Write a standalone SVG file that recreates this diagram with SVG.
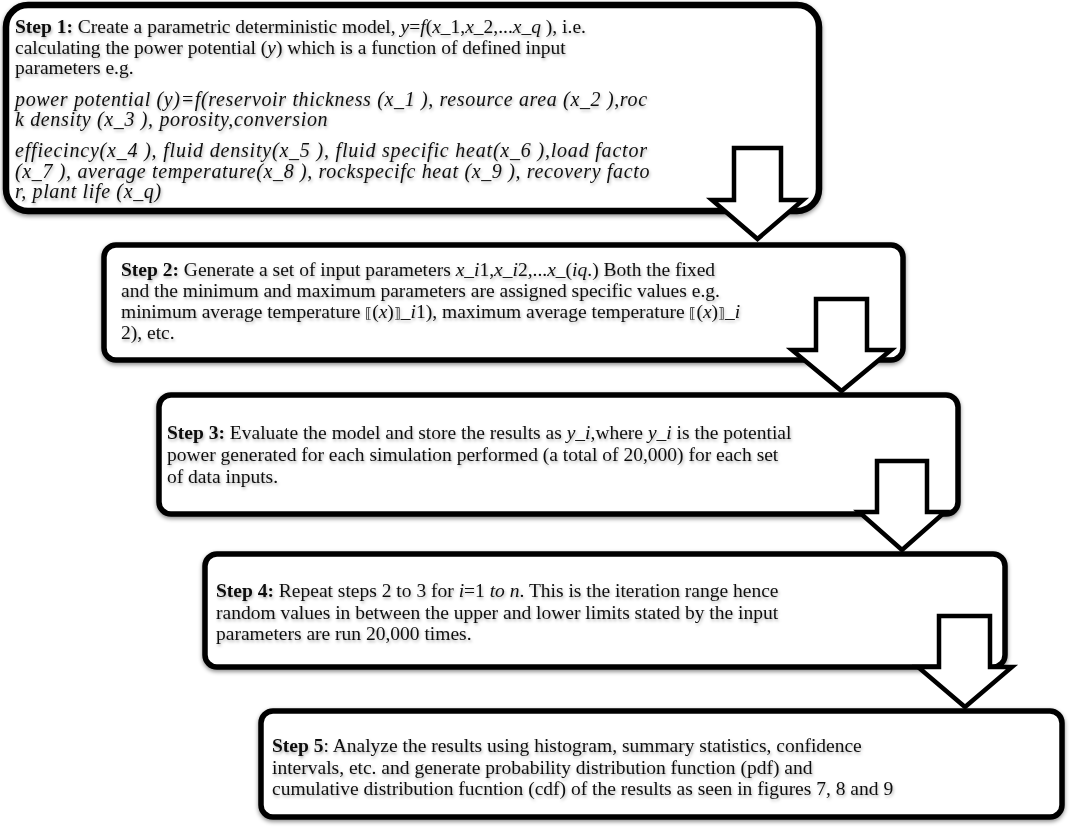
<svg xmlns="http://www.w3.org/2000/svg" width="1072" height="829" viewBox="0 0 1072 829">
<style>
.box{fill:#fff;stroke:#000;stroke-width:5.5;filter:url(#sh)}
.arr{fill:#fff;stroke:#000;stroke-width:4.5;stroke-linejoin:miter}
.t{font-family:"Liberation Serif","Times New Roman",serif;font-size:19.5px;fill:#111;filter:url(#tsh)}
.b{font-weight:bold}
.m{font-style:italic}
.mm{font-style:italic;font-size:20px;letter-spacing:0.65px}
.br{font-family:"DejaVu Serif",serif;font-size:14px}
</style>
<defs>
<filter id="sh" x="-5%" y="-10%" width="110%" height="125%">
<feDropShadow dx="0" dy="2" stdDeviation="2" flood-color="#000" flood-opacity="0.45"/>
</filter>
<filter id="tsh" x="-5%" y="-30%" width="110%" height="170%">
<feDropShadow dx="1" dy="2" stdDeviation="1.5" flood-color="#000" flood-opacity="0.3"/>
</filter>
</defs>

<g id="step1">
<rect class="box" x="6" y="5" width="813" height="206" rx="22" style="stroke-width:6.5"/>
<text class="t" x="15" y="33"><tspan class="b">Step 1:</tspan> Create a parametric deterministic model, <tspan class="m">y</tspan>=<tspan class="m">f</tspan>(<tspan class="m">x</tspan>_1,<tspan class="m">x</tspan>_2,...<tspan class="m">x</tspan>_<tspan class="m">q</tspan> ), i.e.</text>
<text class="t" x="15" y="54">calculating the power potential (<tspan class="m">y</tspan>) which is a function of defined input</text>
<text class="t" x="15" y="74">parameters e.g.</text>
<text class="t mm" x="15" y="106">power potential (y)=f(reservoir thickness (x_1 ), resource area (x_2 ),roc</text>
<text class="t mm" x="15" y="126">k density (x_3 ), porosity,conversion</text>
<text class="t mm" x="15" y="157" style="letter-spacing:0.8px">effiecincy(x_4 ), fluid density(x_5 ), fluid specific heat(x_6 ),load factor</text>
<text class="t mm" x="15" y="178">(x_7 ), average temperature(x_8 ), rockspecifc heat (x_9 ), recovery facto</text>
<text class="t mm" x="15" y="198">r, plant life (x_q)</text>
</g>

<g id="step2">
<rect class="box" x="104" y="245" width="799" height="115" rx="12"/>
<text class="t" x="121" y="276"><tspan class="b">Step 2:</tspan> Generate a set of input parameters <tspan class="m">x</tspan>_<tspan class="m">i</tspan>1,<tspan class="m">x</tspan>_<tspan class="m">i</tspan>2,...<tspan class="m">x</tspan>_(<tspan class="m">iq</tspan>.) Both the fixed</text>
<text class="t" x="121" y="297">and the minimum and maximum parameters are assigned specific values e.g.</text>
<text class="t" x="121" y="318">minimum average temperature <tspan class="br">⟦</tspan>(<tspan class="m">x</tspan>)<tspan class="br">⟧</tspan>_<tspan class="m">i</tspan>1), maximum average temperature <tspan class="br">⟦</tspan>(<tspan class="m">x</tspan>)<tspan class="br">⟧</tspan>_<tspan class="m">i</tspan></text>
<text class="t" x="121" y="339">2), etc.</text>
</g>

<g id="step3">
<rect class="box" x="159" y="395" width="799" height="119" rx="12"/>
<text class="t" x="167" y="439"><tspan class="b">Step 3:</tspan> Evaluate the model and store the results as <tspan class="m">y_i</tspan>,where <tspan class="m">y_i</tspan> is the potential</text>
<text class="t" x="167" y="461">power generated for each simulation performed (a total of 20,000) for each set</text>
<text class="t" x="167" y="483">of data inputs.</text>
</g>

<g id="step4">
<rect class="box" x="205" y="554" width="800" height="113" rx="12"/>
<text class="t" x="216" y="597"><tspan class="b">Step 4:</tspan> Repeat steps 2 to 3 for <tspan class="m">i</tspan>=1 <tspan class="m">to n</tspan>. This is the iteration range hence</text>
<text class="t" x="216" y="619">random values in between the upper and lower limits stated by the input</text>
<text class="t" x="216" y="640">parameters are run 20,000 times.</text>
</g>

<g id="step5">
<rect class="box" x="261" y="711" width="801" height="106" rx="12"/>
<text class="t" x="272" y="752"><tspan class="b">Step 5</tspan>: Analyze the results using histogram, summary statistics, confidence</text>
<text class="t" x="272" y="774">intervals, etc. and generate probability distribution function (pdf) and</text>
<text class="t" x="272" y="795">cumulative distribution fucntion (cdf) of the results as seen in figures 7, 8 and 9</text>
</g>

<g id="connectors">
<path class="arr" d="M734,148 H781 V200 H803 L757.5,239 L712,200 H734 Z"/>
<path class="arr" d="M816,299 H867 V350 H891 L841.5,391 L792,350 H816 Z"/>
<path class="arr" d="M877,461 H927 V512 H945 L902,550 L859,512 H877 Z"/>
<path class="arr" d="M939,616 H990 V667 H1012 L965,707 L918,667 H939 Z"/>
</g>
</svg>
